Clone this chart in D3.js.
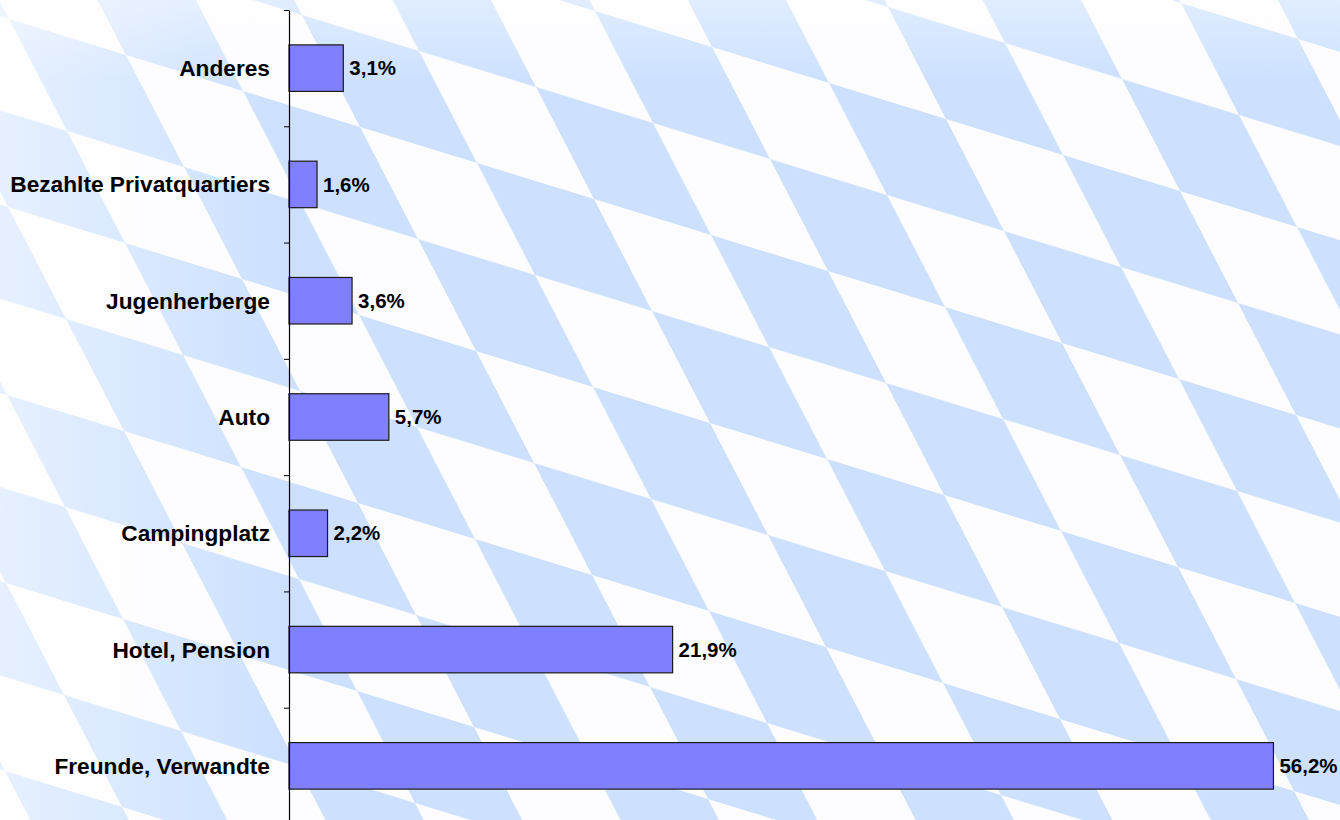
<!DOCTYPE html>
<html>
<head>
<meta charset="utf-8">
<script src="https://cdn.jsdelivr.net/npm/d3@7"></script>
<style>
  html, body { margin: 0; padding: 0; background: #fff; }
  svg { display: block; }
  text { font-family: "Liberation Sans", Arial, sans-serif; font-weight: bold; fill: #000; }
</style>
</head>
<body>
<svg id="chart" width="1340" height="820"></svg>
<script>
// Data (top to bottom as shown)
const categories = ["Anderes", "Bezahlte Privatquartiers", "Jugenherberge", "Auto", "Campingplatz", "Hotel, Pension", "Freunde, Verwandte"];
const values = [3.1, 1.6, 3.6, 5.7, 2.2, 21.9, 56.2];
const valueLabels = ["3,1%", "1,6%", "3,6%", "5,7%", "2,2%", "21,9%", "56,2%"];

const W = 1340, H = 820;
const svg = d3.select("#chart");
const defs = svg.append("defs");

// Bavarian lozenge background
const pat = defs.append("pattern")
  .attr("id", "rauten")
  .attr("patternUnits", "userSpaceOnUse")
  .attr("width", 2).attr("height", 2)
  .attr("patternTransform", "matrix(117,36,58,112,712,47)");
pat.append("rect").attr("x", 1).attr("y", 0).attr("width", 1).attr("height", 1).attr("fill", "#cde1ff");
pat.append("rect").attr("x", 0).attr("y", 1).attr("width", 1).attr("height", 1).attr("fill", "#cde1ff");

const gLeft = defs.append("linearGradient").attr("id", "fadeLeft")
  .attr("x1", 0).attr("y1", 0).attr("x2", 1).attr("y2", 0);
gLeft.append("stop").attr("offset", "0").attr("stop-color", "#fff").attr("stop-opacity", 0.5);
gLeft.append("stop").attr("offset", "1").attr("stop-color", "#fff").attr("stop-opacity", 0);

const gTop = defs.append("linearGradient").attr("id", "fadeTop")
  .attr("x1", 0).attr("y1", 0).attr("x2", 0).attr("y2", 1);
gTop.append("stop").attr("offset", "0").attr("stop-color", "#fff").attr("stop-opacity", 0.4);
gTop.append("stop").attr("offset", "1").attr("stop-color", "#fff").attr("stop-opacity", 0);

svg.append("rect").attr("width", W).attr("height", H).attr("fill", "#fdfdff");
svg.append("rect").attr("width", W).attr("height", H).attr("fill", "url(#rauten)");
svg.append("rect").attr("width", 280).attr("height", H).attr("fill", "url(#fadeLeft)");
svg.append("rect").attr("width", W).attr("height", 80).attr("fill", "url(#fadeTop)");

// Scales
const x = d3.scaleLinear().domain([0, 60]).range([289, 1340]);
const y = d3.scaleBand().domain(categories).range([10, 824])
  .paddingInner(0.6).paddingOuter(0.3);
const yIdx = d3.scaleLinear().domain([0, categories.length]).range([10, 824]);

// Bars
svg.append("g").selectAll("rect").data(categories).join("rect")
  .attr("x", x(0))
  .attr("y", d => y(d))
  .attr("width", (d, i) => x(values[i]) - x(0))
  .attr("height", y.bandwidth())
  .attr("fill", "#8080ff")
  .attr("stroke", "#1a1a1a")
  .attr("stroke-width", 1.2);

// Axis with ticks at category boundaries
const axis = d3.axisLeft(yIdx)
  .tickValues(d3.range(0, categories.length + 1))
  .tickSize(5).tickSizeOuter(0).tickFormat("");
const ag = svg.append("g").attr("transform", `translate(${x(0)},0)`).call(axis);
ag.select(".domain").attr("stroke", "#000").attr("stroke-width", 1.2);
ag.selectAll(".tick line").attr("stroke", "#000").attr("stroke-width", 1);

// Category labels
svg.append("g").selectAll("text").data(categories).join("text")
  .attr("x", 270)
  .attr("y", d => y(d) + y.bandwidth() / 2)
  .attr("dy", "0.35em")
  .attr("text-anchor", "end")
  .style("font-size", "22.7px")
  .text(d => d);

// Value labels
svg.append("g").selectAll("text").data(categories).join("text")
  .attr("x", (d, i) => x(values[i]) + 6)
  .attr("y", d => y(d) + y.bandwidth() / 2)
  .attr("dy", "0.35em")
  .style("font-size", "20.5px")
  .text((d, i) => valueLabels[i]);
</script>
</body>
</html>
